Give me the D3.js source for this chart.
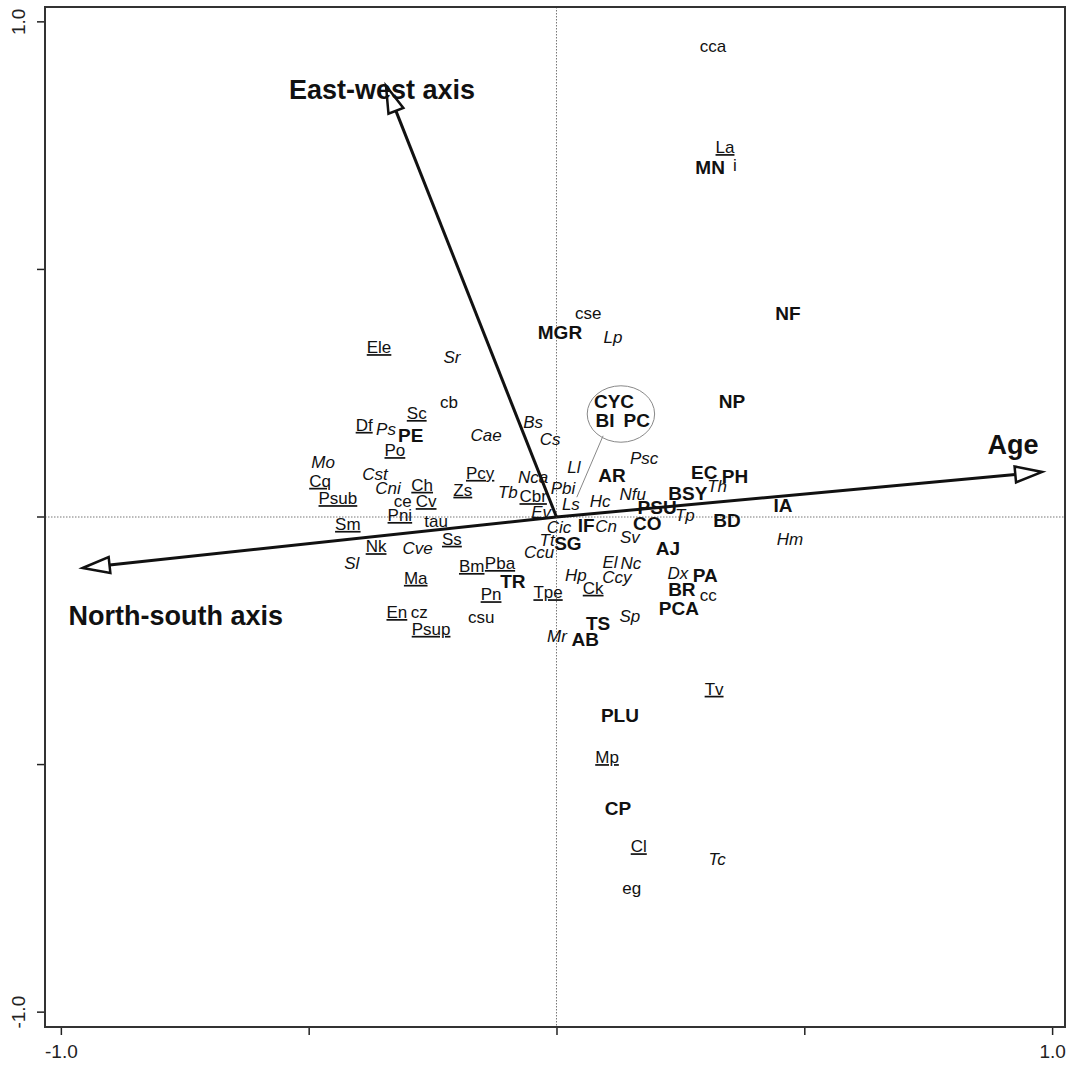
<!DOCTYPE html>
<html>
<head>
<meta charset="utf-8">
<script src="https://cdn.jsdelivr.net/npm/d3@7"></script>
<style>
  html, body { margin: 0; padding: 0; background: #fff; }
  svg { display: block; font-family: "Liberation Sans", Arial, sans-serif; }
</style>
</head>
<body>
<svg id="chart" width="1068" height="1067"></svg>
<script>
// ---- Data (ordination scores) ----
// Sites (bold)
const siteLabels = ["MN","NF","MGR","NP","CYC","BI","PC","AR","EC","PH","BSY","PSU","IA","BD","IF","CO","SG","AJ","PA","BR","PCA","TR","TS","AB","PLU","CP","PE"];
const siteX = [0.310,0.467,0.007,0.354,0.116,0.098,0.162,0.112,0.298,0.360,0.265,0.203,0.457,0.344,0.060,0.183,0.023,0.225,0.300,0.253,0.247,-0.088,0.084,0.058,0.128,0.124,-0.294];
const siteY = [0.707,0.412,0.372,0.234,0.234,0.196,0.196,0.085,0.091,0.083,0.048,0.020,0.024,-0.006,-0.016,-0.012,-0.053,-0.063,-0.117,-0.147,-0.184,-0.129,-0.214,-0.248,-0.400,-0.588,0.164];

// Italic species
const italLabels = ["Sr","Ps","Cae","Bs","Cs","Mo","Cst","Cni","Ll","Psc","Nca","Pbi","Tb","Th","Hc","Nfu","Ls","Ev","Tp","Cic","Cn","Tt","Ccu","Sv","Hm","Cve","Sl","El","Nc","Hp","Ccy","Dx","Sp","Mr","Tc","Lp"];
const italX = [-0.211,-0.344,-0.142,-0.047,-0.013,-0.471,-0.366,-0.340,0.035,0.177,-0.047,0.013,-0.098,0.324,0.088,0.154,0.029,-0.031,0.259,0.005,0.100,-0.019,-0.035,0.148,0.471,-0.280,-0.413,0.108,0.150,0.039,0.122,0.245,0.148,0.001,0.324,0.114];
const italY = [0.323,0.178,0.166,0.192,0.158,0.111,0.087,0.059,0.101,0.119,0.081,0.059,0.051,0.063,0.032,0.046,0.026,0.010,0.004,-0.020,-0.018,-0.046,-0.071,-0.040,-0.044,-0.063,-0.093,-0.091,-0.093,-0.117,-0.121,-0.113,-0.200,-0.240,-0.691,0.364];

// Underlined species
const undLabels = ["Ele","Sc","Df","Po","Cq","Psub","Ch","Cv","Pcy","Zs","Cbr","Pni","Sm","Nk","Ss","Bm","Pba","Ma","Pn","Tpe","Ck","En","Psup","La","Tv","Mp","Cl"];
const undX = [-0.358,-0.282,-0.388,-0.326,-0.477,-0.441,-0.271,-0.263,-0.154,-0.189,-0.047,-0.316,-0.421,-0.364,-0.211,-0.171,-0.114,-0.284,-0.132,-0.017,0.074,-0.322,-0.253,0.340,0.318,0.102,0.166];
const undY = [0.343,0.210,0.186,0.135,0.073,0.038,0.065,0.032,0.089,0.055,0.042,0.004,-0.014,-0.059,-0.044,-0.099,-0.093,-0.123,-0.156,-0.152,-0.143,-0.192,-0.226,0.747,-0.347,-0.485,-0.665];

// Plain species
const plainLabels = ["cca","i","cse","cb","ce","tau","cz","csu","cc","eg"];
const plainX = [0.316,0.360,0.064,-0.217,-0.310,-0.243,-0.277,-0.152,0.306,0.152];
const plainY = [0.952,0.711,0.412,0.232,0.032,-0.008,-0.192,-0.202,-0.158,-0.749];

// Environmental vectors
const vecNames = ["Age","East-west axis","North-south axis"];
const vecX = [0.980,-0.344,-0.956];
const vecY = [0.091,0.871,-0.103];
const vecLabelX = [0.921,-0.352,-0.768];
const vecLabelY = [0.147,0.863,-0.200];

// Ellipse grouping CYC / BI / PC
const groupCenter = [0.130, 0.208];
const groupRadii = [0.068, 0.057];
const groupLink = [[0.094, 0.164],[0.041, 0.040]];

// Axis ticks
const tickValues = [-1.0, -0.5, 0, 0.5, 1.0];
const tickLabels = ["-1.0", "", "", "", "1.0"];

// ---- Drawing ----
const svg = d3.select("#chart");
const L = 45, R = 1065, T = 7, B = 1027;
const x = d3.scaleLinear().domain([-1.032, 1.026]).range([L, R]);
const y = d3.scaleLinear().domain([-1.030, 1.030]).range([B, T]);
const ink = "#111";

// dotted zero lines
svg.append("line").attr("x1", x(0)).attr("x2", x(0)).attr("y1", T).attr("y2", B)
  .attr("stroke", "#777").attr("stroke-width", 1).attr("stroke-dasharray", "1.5,1.5");
svg.append("line").attr("x1", L).attr("x2", R).attr("y1", y(0)).attr("y2", y(0))
  .attr("stroke", "#777").attr("stroke-width", 1).attr("stroke-dasharray", "1.5,1.5");

// axes
const fmt = (d) => tickLabels[tickValues.indexOf(d)];
const xAxis = svg.append("g").attr("transform", `translate(0,${B})`)
  .call(d3.axisBottom(x).tickValues(tickValues).tickFormat(fmt).tickSize(8).tickPadding(10));
const yAxis = svg.append("g").attr("transform", `translate(${L},0)`)
  .call(d3.axisLeft(y).tickValues(tickValues).tickFormat(fmt).tickSize(8).tickPadding(10));
[xAxis, yAxis].forEach(g => {
  g.select(".domain").remove();
  g.selectAll(".tick line").attr("stroke", "#222").attr("stroke-width", 1.5);
  g.selectAll(".tick text").attr("fill", "#222").style("font-size", "19px")
    .style("font-family", "'Liberation Sans', Arial, sans-serif");
});
yAxis.selectAll(".tick text")
  .attr("text-anchor", "middle").attr("dy", null)
  .attr("transform", d => `translate(${-27},${y(d)}) rotate(-90)`)
  .attr("x", 0).attr("y", 0).attr("dominant-baseline", "central");
yAxis.selectAll(".tick").attr("transform", null);
yAxis.selectAll(".tick line").attr("y1", d => y(d)).attr("y2", d => y(d));

// plot box
svg.append("rect").attr("x", L).attr("y", T).attr("width", R - L).attr("height", B - T)
  .attr("fill", "none").attr("stroke", "#333").attr("stroke-width", 2);

// ellipse and link
svg.append("ellipse")
  .attr("cx", x(groupCenter[0])).attr("cy", y(groupCenter[1]))
  .attr("rx", x(groupRadii[0]) - x(0)).attr("ry", y(0) - y(groupRadii[1]))
  .attr("fill", "none").attr("stroke", "#888").attr("stroke-width", 1);
svg.append("line")
  .attr("x1", x(groupLink[0][0])).attr("y1", y(groupLink[0][1]))
  .attr("x2", x(groupLink[1][0])).attr("y2", y(groupLink[1][1]))
  .attr("stroke", "#888").attr("stroke-width", 1);

// vectors
const headLen = 27, headHalf = 8;
vecNames.forEach((name, i) => {
  const x0 = x(0), y0 = y(0), x1 = x(vecX[i]), y1 = y(vecY[i]);
  const dx = x1 - x0, dy = y1 - y0, len = Math.hypot(dx, dy);
  const ux = dx / len, uy = dy / len;
  const bx = x1 - ux * headLen, by = y1 - uy * headLen;
  svg.append("line").attr("x1", x0).attr("y1", y0).attr("x2", bx).attr("y2", by)
    .attr("stroke", ink).attr("stroke-width", 3);
  const pts = [[x1, y1], [bx - uy * headHalf, by + ux * headHalf], [bx + uy * headHalf, by - ux * headHalf]];
  svg.append("polygon").attr("points", pts.map(p => p.join(",")).join(" "))
    .attr("fill", "#fff").attr("stroke", ink).attr("stroke-width", 2.5).attr("stroke-linejoin", "miter");
  svg.append("text").attr("x", x(vecLabelX[i])).attr("y", y(vecLabelY[i]))
    .attr("dy", "0.35em").attr("text-anchor", "middle")
    .style("font-size", "27px").style("font-weight", "bold").attr("fill", ink).text(name);
});

// labels
function drawLabels(labels, xs, ys, style) {
  svg.append("g").selectAll("text").data(labels).join("text")
    .attr("x", (d, i) => x(xs[i])).attr("y", (d, i) => y(ys[i]))
    .attr("dy", "0.35em").attr("text-anchor", "middle").attr("fill", ink)
    .style("font-size", style.size + "px")
    .style("font-weight", style.bold ? "bold" : "normal")
    .style("font-style", style.italic ? "italic" : "normal")
    .style("text-decoration", style.underline ? "underline" : "none")
    .text(d => d);
}
drawLabels(plainLabels, plainX, plainY, {size: 17});
drawLabels(undLabels, undX, undY, {size: 17, underline: true});
drawLabels(italLabels, italX, italY, {size: 17, italic: true});
drawLabels(siteLabels, siteX, siteY, {size: 19, bold: true});
</script>
</body>
</html>
